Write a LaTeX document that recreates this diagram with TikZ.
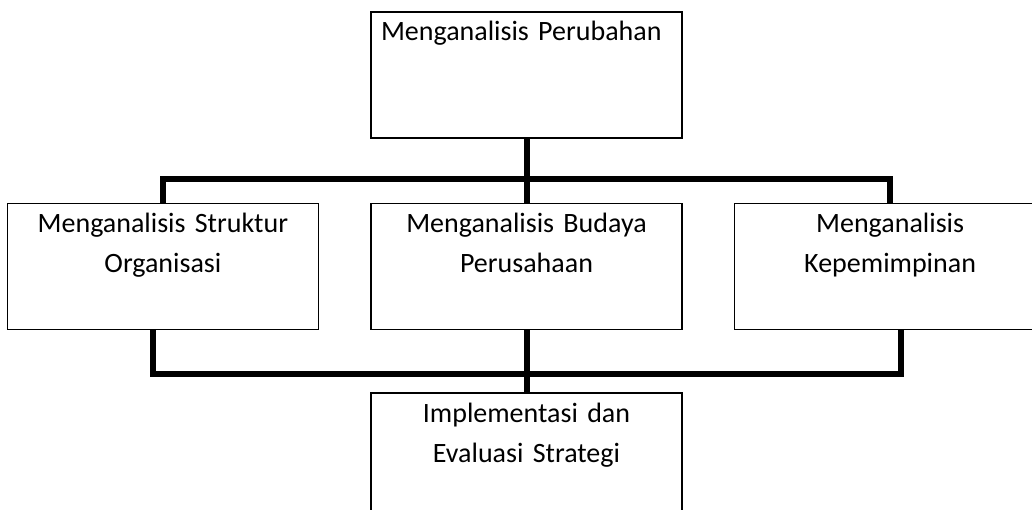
\documentclass[tikz,border=0pt]{standalone}
\usepackage{fontspec}
\setmainfont{Carlito}
\usetikzlibrary{positioning}

\begin{document}
\begin{tikzpicture}[x=1pt,y=-1pt,
  box/.style={draw,line width=1.6pt,inner sep=0pt,text width=311pt,align=center,
    text height=29pt,text depth=97pt,font=\fontsize{28pt}{40pt}\selectfont},
  link/.style={line width=6pt}]
\useasboundingbox (0,0) rectangle (1032,510);
\node[box,align=left] (analisis) at (526.5,75) {\hspace*{10pt}Menganalisis Perubahan};
\node[box,below=64pt of analisis] (budaya) {Menganalisis Budaya\\Perusahaan};
\node[box,left=51pt of budaya] (struktur) {Menganalisis Struktur\\Organisasi};
\node[box,right=51pt of budaya] (pimpin) {Menganalisis\\Kepemimpinan};
\node[box,below=62pt of budaya] (impl) {Implementasi dan\\Evaluasi Strategi};
% garis penghubung
\coordinate[below=40pt of analisis.south] (atas);
\coordinate[below=44pt of budaya.south] (bawah);
\draw[link] (analisis) -- (budaya);
\draw[link] (struktur.north) |- (atas) -| (pimpin.north);
\draw[link] ([xshift=-10pt]struktur.south) |- (bawah) -| ([xshift=11pt]pimpin.south);
\draw[link] (budaya) -- (impl);
\end{tikzpicture}
\end{document}
